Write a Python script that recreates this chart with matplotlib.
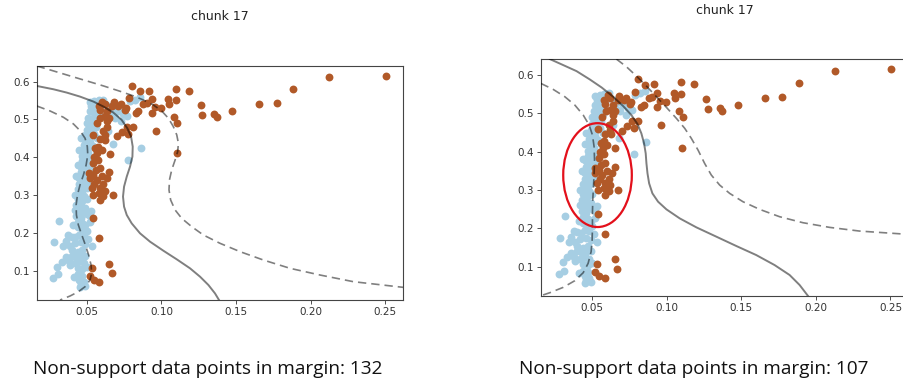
import matplotlib
matplotlib.use("Agg")
import matplotlib.pyplot as plt
from matplotlib.patches import Ellipse

# ---- class 0 (light blue) points ----
blue_x = [0.052, 0.055, 0.058, 0.061, 0.053, 0.056, 0.059, 0.052, 0.055, 0.058, 0.062, 0.065, 0.068, 0.071,
          0.074, 0.077, 0.079, 0.082, 0.0857, 0.073, 0.069, 0.066,
          0.051, 0.054, 0.057, 0.050, 0.053, 0.056, 0.050, 0.053, 0.049, 0.052, 0.055, 0.064,
          0.049, 0.052, 0.048, 0.051, 0.054, 0.048, 0.051, 0.047, 0.050, 0.0679, 0.0864, 0.0779,
          0.047, 0.050, 0.046, 0.049, 0.046, 0.049, 0.045, 0.048, 0.045, 0.048, 0.044, 0.047, 0.050, 0.045, 0.048,
          0.044, 0.047, 0.043, 0.046, 0.049, 0.044, 0.047, 0.053, 0.052, 0.043, 0.046, 0.044, 0.047, 0.052,
          0.044, 0.047, 0.050, 0.0315,
          0.0377, 0.0400, 0.0422, 0.045, 0.048, 0.051, 0.0344, 0.0388, 0.0283, 0.036, 0.042, 0.046, 0.049,
          0.0533, 0.040, 0.044, 0.047, 0.0361, 0.040, 0.043, 0.046, 0.049, 0.0333, 0.038, 0.042, 0.045,
          0.048, 0.0304, 0.0388, 0.044, 0.047, 0.050,
          0.0277, 0.031, 0.0415, 0.044, 0.047, 0.045, 0.048, 0.046, 0.0455, 0.049,
          0.046, 0.045, 0.044, 0.043, 0.042, 0.042, 0.041, 0.057, 0.056, 0.053, 0.052, 0.051, 0.050,
          0.050, 0.049]
blue_y = [0.545, 0.548, 0.550, 0.552, 0.535, 0.532, 0.538, 0.522, 0.518, 0.515, 0.540, 0.536, 0.530, 0.522,
          0.515, 0.510, 0.548, 0.552, 0.559, 0.495, 0.505, 0.512,
          0.505, 0.500, 0.498, 0.490, 0.485, 0.480, 0.472, 0.468, 0.458, 0.455, 0.462, 0.470,
          0.445, 0.440, 0.432, 0.425, 0.430, 0.418, 0.410, 0.402, 0.398, 0.435, 0.425, 0.393,
          0.390, 0.385, 0.375, 0.370, 0.360, 0.355, 0.345, 0.340, 0.330, 0.325, 0.315, 0.310, 0.318, 0.302, 0.298,
          0.290, 0.285, 0.275, 0.270, 0.265, 0.260, 0.255, 0.258, 0.245, 0.245, 0.240, 0.230, 0.225, 0.228,
          0.215, 0.210, 0.205, 0.232,
          0.194, 0.190, 0.188, 0.195, 0.192, 0.185, 0.165, 0.165, 0.175, 0.178, 0.172, 0.175, 0.170,
          0.165, 0.155, 0.150, 0.155, 0.137, 0.140, 0.135, 0.138, 0.140, 0.124, 0.125, 0.120, 0.125,
          0.120, 0.111, 0.115, 0.108, 0.105, 0.110,
          0.080, 0.090, 0.084, 0.090, 0.085, 0.075, 0.070, 0.065, 0.058, 0.060,
          0.450, 0.420, 0.380, 0.350, 0.300, 0.260, 0.220, 0.450, 0.420, 0.390, 0.370, 0.330, 0.290,
          0.250, 0.220]

# ---- class 1 (brown) points ----
brown_x = [0.2504, 0.2125, 0.1884, 0.1772, 0.1656, 0.1475, 0.1370, 0.1355, 0.1275, 0.1266, 0.1183, 0.1098,
           0.1096, 0.1085, 0.1107, 0.1103, 0.0964, 0.1047, 0.1054, 0.0996, 0.0935, 0.0917, 0.0857, 0.0806,
           0.0786, 0.0902, 0.0935, 0.0958, 0.0846, 0.0830, 0.0757, 0.0712, 0.0670, 0.0603, 0.0638, 0.0589,
           0.0768, 0.0808, 0.0779, 0.0700, 0.0638, 0.0638, 0.0567, 0.0589, 0.0556, 0.0578, 0.0656, 0.0578,
           0.0545, 0.0589, 0.0518, 0.0545, 0.0567, 0.0600, 0.0634, 0.0533, 0.0589, 0.0620, 0.0674, 0.0589,
           0.0540, 0.0540, 0.0583, 0.0652, 0.0667, 0.0533, 0.0522, 0.0549, 0.0583,
           0.056, 0.052, 0.055, 0.061, 0.058, 0.061, 0.057, 0.060, 0.062, 0.061, 0.059, 0.062, 0.065,
           0.068, 0.073, 0.062, 0.058, 0.076, 0.088, 0.0735, 0.0625, 0.054, 0.055, 0.065]
brown_y = [0.615, 0.611, 0.580, 0.543, 0.540, 0.522, 0.507, 0.514, 0.512, 0.537, 0.576, 0.581,
           0.551, 0.507, 0.491, 0.411, 0.469, 0.553, 0.541, 0.531, 0.554, 0.576, 0.574, 0.589,
           0.556, 0.544, 0.518, 0.532, 0.523, 0.516, 0.525, 0.536, 0.535, 0.547, 0.521, 0.525,
           0.481, 0.481, 0.462, 0.455, 0.481, 0.496, 0.490, 0.447, 0.424, 0.428, 0.409, 0.393,
           0.384, 0.371, 0.357, 0.352, 0.340, 0.350, 0.344, 0.318, 0.318, 0.312, 0.300, 0.287,
           0.300, 0.238, 0.186, 0.119, 0.093, 0.108, 0.086, 0.075, 0.071,
           0.365, 0.345, 0.330, 0.328, 0.305, 0.298, 0.410, 0.418, 0.458, 0.470, 0.505, 0.510, 0.505,
           0.545, 0.540, 0.540, 0.535, 0.530, 0.540, 0.468, 0.445, 0.460, 0.400, 0.360]

# ---- left model: decision boundary (solid) and margins (dashed) ----
left_mid_x = [0.0165, 0.0277, 0.0366, 0.0455, 0.0545, 0.0612, 0.0679, 0.0734, 0.0772, 0.0797, 0.0808,
              0.0806, 0.0790, 0.0768, 0.0750, 0.0743, 0.0750, 0.0768, 0.0801, 0.0857, 0.0924, 0.1013,
              0.1103, 0.1192, 0.1259, 0.1315, 0.1359, 0.1386]
left_mid_y = [0.5885, 0.5797, 0.5709, 0.5603, 0.5471, 0.5339, 0.5180, 0.4986, 0.4765, 0.4545, 0.4280,
              0.4016, 0.3751, 0.3487, 0.3222, 0.2958, 0.2693, 0.2473, 0.2252, 0.1988, 0.1767, 0.1529,
              0.1300, 0.1062, 0.0841, 0.0621, 0.0400, 0.0224]
left_up_x = [0.0165, 0.0277, 0.0388, 0.0500, 0.0612, 0.0723, 0.0813, 0.0879, 0.0946, 0.1002, 0.1047,
             0.1080, 0.1103, 0.1114, 0.1109, 0.1092, 0.1069, 0.1054, 0.1051, 0.1062, 0.1092, 0.1136,
             0.1203, 0.1281, 0.1393, 0.1527, 0.1683, 0.1862, 0.2063, 0.2286, 0.2621]
left_up_y = [0.6414, 0.6282, 0.6150, 0.6018, 0.5885, 0.5744, 0.5621, 0.5515, 0.5383, 0.5224, 0.5030,
             0.4810, 0.4589, 0.4369, 0.4148, 0.3928, 0.3663, 0.3399, 0.3134, 0.2869, 0.2605, 0.2384,
             0.2164, 0.1944, 0.1723, 0.1503, 0.1282, 0.1062, 0.0885, 0.0709, 0.0559]
left_lo_x = [0.0165, 0.0254, 0.0344, 0.0411, 0.0455, 0.0489, 0.0504, 0.0507, 0.0496, 0.0478, 0.0455,
             0.0438, 0.0429, 0.0431, 0.0444, 0.0467, 0.0491, 0.0513, 0.0529, 0.0533, 0.0522, 0.0489,
             0.0444, 0.0388, 0.0321]
left_lo_y = [0.5356, 0.5224, 0.5056, 0.4880, 0.4704, 0.4501, 0.4280, 0.4060, 0.3795, 0.3531, 0.3266,
             0.3002, 0.2737, 0.2473, 0.2208, 0.1944, 0.1679, 0.1414, 0.1150, 0.0929, 0.0753, 0.0577,
             0.0444, 0.0330, 0.0224]

# ---- right model ----
right_mid_x = [0.0217, 0.0306, 0.0395, 0.0484, 0.0563, 0.0641, 0.0708, 0.0763, 0.0804, 0.0830, 0.0848,
               0.0859, 0.0864, 0.0871, 0.0882, 0.0904, 0.0942, 0.0998, 0.1087, 0.1199, 0.1333, 0.1467,
               0.1600, 0.1723, 0.1824, 0.1891, 0.1946]
right_mid_y = [0.6417, 0.6261, 0.6104, 0.5887, 0.5678, 0.5435, 0.5191, 0.4957, 0.4722, 0.4478, 0.4217,
               0.3957, 0.3696, 0.3435, 0.3174, 0.2913, 0.2696, 0.2496, 0.2261, 0.2026, 0.1783, 0.1539,
               0.1304, 0.1043, 0.0783, 0.0522, 0.0243]
right_up_x = [0.0663, 0.0730, 0.0797, 0.0864, 0.0931, 0.0998, 0.1065, 0.1121, 0.1165, 0.1210, 0.1254,
              0.1299, 0.1355, 0.1422, 0.1511, 0.1623, 0.1757, 0.1913, 0.2092, 0.2292, 0.2587, 0.2672]
right_up_y = [0.6417, 0.6217, 0.5974, 0.5713, 0.5435, 0.5157, 0.4870, 0.4609, 0.4348, 0.4043, 0.3696,
              0.3391, 0.3130, 0.2913, 0.2696, 0.2496, 0.2304, 0.2148, 0.2026, 0.1930, 0.1852, 0.1835]
right_lo_x = [0.0156, 0.0239, 0.0317, 0.0384, 0.0440, 0.0480, 0.0502, 0.0513, 0.0516, 0.0513, 0.0509,
              0.0504, 0.0502, 0.0502, 0.0500, 0.0493, 0.0473, 0.0440, 0.0384, 0.0306, 0.0217, 0.0156]
right_lo_y = [0.5783, 0.5626, 0.5435, 0.5217, 0.4957, 0.4696, 0.4435, 0.4130, 0.3783, 0.3435, 0.3087,
              0.2739, 0.2391, 0.2043, 0.1696, 0.1391, 0.1087, 0.0843, 0.0635, 0.0461, 0.0322, 0.0243]

titles = ["chunk 17", "chunk 17"]
captions = ["Non-support data points in margin: 132", "Non-support data points in margin: 107"]
xticks = [0.05, 0.10, 0.15, 0.20, 0.25]
yticks = [0.1, 0.2, 0.3, 0.4, 0.5, 0.6]

BLUE = "#a6cee3"
BROWN = "#b15928"

fig = plt.figure(figsize=(9.04, 3.84), dpi=100)
W, H = 904, 384


def px_axes(x0, y0, x1, y1):
    return fig.add_axes([x0 / W, 1 - y1 / H, (x1 - x0) / W, (y1 - y0) / H])


ax_l = px_axes(36.7, 65.7, 403.3, 300.0)
ax_r = px_axes(541.0, 59.0, 907.6, 295.7)

curves = [
    (left_mid_x, left_mid_y, left_up_x, left_up_y, left_lo_x, left_lo_y),
    (right_mid_x, right_mid_y, right_up_x, right_up_y, right_lo_x, right_lo_y),
]
limits = [((0.0165, 0.262), (0.0225, 0.642)), ((0.0157, 0.2615), (0.0243, 0.642))]

for ax, cv, (xl, yl) in zip([ax_l, ax_r], curves, limits):
    ax.scatter(blue_x, blue_y, s=32, c=BLUE, linewidths=0, zorder=2)
    ax.scatter(brown_x, brown_y, s=32, c=BROWN, linewidths=0, zorder=2)
    mx, my, ux, uy, lx, ly = cv
    ax.plot(mx, my, color="k", alpha=0.5, lw=1.4, zorder=3, solid_joinstyle="round")
    ax.plot(ux, uy, color="k", alpha=0.5, lw=1.2, ls=(0, (5, 3)), zorder=3)
    ax.plot(lx, ly, color="k", alpha=0.5, lw=1.2, ls=(0, (5, 3)), zorder=3)
    ax.set_xlim(*xl)
    ax.set_ylim(*yl)
    ax.set_xticks(xticks)
    ax.set_yticks(yticks)
    ax.set_xticklabels([f"{t:.2f}" for t in xticks])
    ax.set_yticklabels([f"{t:.1f}" for t in yticks])
    ax.tick_params(labelsize=7.5, length=3, width=0.6, colors="#333333", pad=2)
    for sp in ax.spines.values():
        sp.set_linewidth(0.8)
        sp.set_color("#444444")

# highlighted region on the right model
ax_r.add_patch(Ellipse((0.0536, 0.339), width=0.046, height=0.271, fill=False,
                       edgecolor="#e3101b", lw=1.6, zorder=4))

fig.text(220 / W, 1 - 17 / H, titles[0], ha="center", va="center", fontsize=9, color="#222222")
fig.text(725 / W, 1 - 10 / H, titles[1], ha="center", va="center", fontsize=9, color="#222222")

fig.text(33 / W, 1 - 374 / H, captions[0], ha="left", va="baseline", fontsize=13.7,
         family=["Open Sans", "DejaVu Sans"], color="#111111")
fig.text(519 / W, 1 - 374 / H, captions[1], ha="left", va="baseline", fontsize=13.7,
         family=["Open Sans", "DejaVu Sans"], color="#111111")

fig.savefig("out.png", dpi=100)
